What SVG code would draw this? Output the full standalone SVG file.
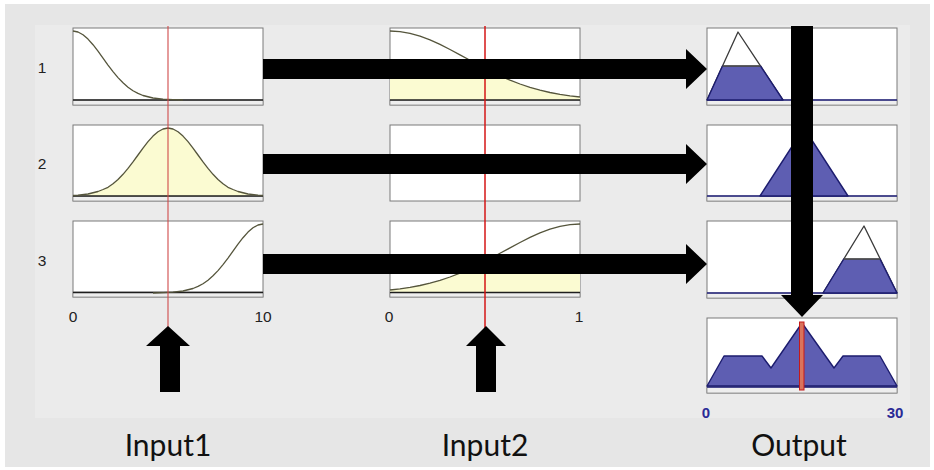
<svg xmlns="http://www.w3.org/2000/svg" width="934" height="470" viewBox="0 0 934 470">
  <style>
    .frame { fill: #ffffff; stroke: #7a7a7a; stroke-width: 1; }
    .strip { fill: #eeeeee; stroke: #8a8a8a; stroke-width: 0.8; }
    .axis { stroke: #1e1e1e; stroke-width: 1.5; }
    .oaxis { stroke: #20207a; stroke-width: 1.4; }
    .mf { fill: none; stroke: #55553c; stroke-width: 1.3; stroke-linejoin: round; }
    .mffill { fill: #fbfbd2; stroke: none; }
    .omf { fill: #5e5eb2; stroke: #1c1c6e; stroke-width: 1.4; stroke-linejoin: round; }
    .otri { fill: none; stroke: #3a3a3a; stroke-width: 1.3; stroke-linejoin: round; }
    .cut { stroke: #6a6a30; stroke-width: 1.2; }
    .row { font-family: "Liberation Sans", Arial, sans-serif; font-size: 15.5px; fill: #222222; text-anchor: middle; }
    .tick { font-family: "Liberation Sans", Arial, sans-serif; font-size: 15.5px; fill: #222222; text-anchor: middle; }
    .otick { font-family: "Liberation Sans", Arial, sans-serif; font-size: 15px; font-weight: bold; fill: #2a2a96; text-anchor: middle; }
    .title { font-family: "Lato", "Liberation Sans", sans-serif; font-size: 30px; fill: #111111; text-anchor: middle; }
    .arrow { fill: #000000; stroke: none; }
  </style>

  <!-- backdrop -->
  <rect x="0" y="0" width="934" height="470" fill="#ffffff"/>
  <rect x="5" y="4" width="925" height="463" fill="#e6e6e6"/>
  <rect x="35" y="25" width="875" height="393" fill="#ebebeb"/>

  <!-- rule numbers -->
  <g id="rule-labels">
    <text class="row" x="42" y="73">1</text>
    <text class="row" x="42" y="169">2</text>
    <text class="row" x="42" y="266">3</text>
  </g>

  <!-- Input1 column -->
  <g id="input1-mf1">
    <rect class="frame" x="73" y="28" width="190" height="77"/>
    <rect class="strip" x="73" y="100" width="190" height="5"/>
    <line class="axis" x1="73" y1="100" x2="263" y2="100"/>
    <polyline class="mf" points="73,31 78,32 83,34.7 88,39.1 93,44.7 98,51.2 103,58.1 108,65.1 113,71.6 118,77.6 123,82.8 128,87.2 133,90.7 138,93.4 143,95.5 153,98 163,99.2 173,99.7 183,100"/>
  </g>
  <g id="input1-mf2">
    <rect class="frame" x="73" y="125" width="190" height="76"/>
    <rect class="strip" x="73" y="196" width="190" height="5"/>
    <polygon class="mffill" points="73,195.5 78,195.2 88,194 98,191.5 103,189.5 108,187.3 113,183.8 118,179.5 123,174.3 128,168.4 133,161.9 138,155 143,148.1 148,141.6 153,136.1 158,131.7 163,129 168,128 173,129 178,131.7 183,136.1 188,141.6 193,148.1 198,155 203,161.9 208,168.4 213,174.3 218,179.5 223,183.8 228,187.3 233,189.5 238,191.5 248,194 258,195.2 263,195.5 263,196 73,196"/>
    <line class="axis" x1="73" y1="196" x2="263" y2="196"/>
    <polyline class="mf" points="73,195.5 78,195.2 88,194 98,191.5 103,189.5 108,187.3 113,183.8 118,179.5 123,174.3 128,168.4 133,161.9 138,155 143,148.1 148,141.6 153,136.1 158,131.7 163,129 168,128 173,129 178,131.7 183,136.1 188,141.6 193,148.1 198,155 203,161.9 208,168.4 213,174.3 218,179.5 223,183.8 228,187.3 233,189.5 238,191.5 248,194 258,195.2 263,195.5"/>
  </g>
  <g id="input1-mf3">
    <rect class="frame" x="73" y="221" width="190" height="76"/>
    <rect class="strip" x="73" y="292" width="190" height="5"/>
    <line class="axis" x1="73" y1="292.5" x2="263" y2="292.5"/>
    <polyline class="mf" points="153,293 163,292.7 173,292.2 183,291 193,288.5 198,286.4 203,283.7 208,280.2 213,275.8 218,270.6 223,264.6 228,258.1 233,251.1 238,244.2 243,237.7 248,232.1 253,227.7 258,225 263,224"/>
  </g>
  <g id="input1-axis">
    <text class="tick" x="73" y="321.5">0</text>
    <text class="tick" x="263" y="321.5">10</text>
    <line x1="168" y1="26" x2="168" y2="328" stroke="#cf4a4a" stroke-width="1.1"/>
    <text class="title" x="168" y="456">Input1</text>
  </g>

  <!-- Input2 column -->
  <g id="input2-mf1">
    <rect class="frame" x="390" y="28" width="190" height="77"/>
    <rect class="strip" x="390" y="100" width="190" height="5"/>
    <polygon class="mffill" points="390,100 390,68.4 485,68.4 490,71 500,75.8 510,80.2 520,84 530,87.4 540,90.2 550,92.5 560,94.3 570,95.8 580,97 580,100"/>
    <line class="axis" x1="390" y1="100" x2="580" y2="100"/>
    <polyline class="mf" points="390,31 400,31.6 410,33.3 420,36.2 430,39.9 440,44.4 450,49.5 460,54.9 470,60.3 480,65.8 485,68.4 490,71 500,75.8 510,80.2 520,84 530,87.4 540,90.2 550,92.5 560,94.3 570,95.8 580,97"/>
  </g>
  <g id="input2-mf2">
    <rect class="frame" x="390" y="125" width="190" height="76"/>
  </g>
  <g id="input2-mf3">
    <rect class="frame" x="390" y="221" width="190" height="76"/>
    <rect class="strip" x="390" y="292" width="190" height="5"/>
    <polygon class="mffill" points="390,293 390,290 400,288.8 410,287.3 420,285.5 430,283.2 440,280.4 450,277 460,273.2 470,268.8 480,264 485,261.4 580,261.4 580,293"/>
    <line class="axis" x1="390" y1="292.5" x2="580" y2="292.5"/>
    <polyline class="mf" points="390,290 400,288.8 410,287.3 420,285.5 430,283.2 440,280.4 450,277 460,273.2 470,268.8 480,264 485,261.4 490,258.8 500,253.3 510,247.9 520,242.5 530,237.4 540,232.9 550,229.2 560,226.3 570,224.6 580,224"/>
  </g>
  <g id="input2-axis">
    <text class="tick" x="389" y="321.5">0</text>
    <text class="tick" x="579" y="321.5">1</text>
    <line x1="485" y1="26" x2="485" y2="328" stroke="#d41616" stroke-width="1.5"/>
    <text class="title" x="485" y="456">Input2</text>
  </g>

  <!-- Output column -->
  <g id="output-mf1">
    <rect class="frame" x="707" y="28" width="190" height="77"/>
    <rect class="strip" x="707" y="100" width="190" height="5"/>
    <line class="oaxis" x1="707" y1="100" x2="897" y2="100"/>
    <polyline class="otri" points="707,100 738,32 783,100"/>
    <polygon class="omf" points="707,100 722.5,66 760.5,66 783,100"/>
    <line class="cut" x1="722.5" y1="66" x2="760.5" y2="66"/>
  </g>
  <g id="output-mf2">
    <rect class="frame" x="707" y="125" width="190" height="76"/>
    <rect class="strip" x="707" y="196" width="190" height="5"/>
    <line class="oaxis" x1="707" y1="196" x2="897" y2="196"/>
    <polygon class="omf" points="760,196 804,128 848,196"/>
  </g>
  <g id="output-mf3">
    <rect class="frame" x="707" y="221" width="190" height="77"/>
    <rect class="strip" x="707" y="293" width="190" height="5"/>
    <line class="oaxis" x1="707" y1="293" x2="897" y2="293"/>
    <polyline class="otri" points="823,293 864,226 897,293"/>
    <polygon class="omf" points="823,293 843.8,259 880,259 897,293"/>
    <line class="cut" x1="843.8" y1="259" x2="880" y2="259"/>
  </g>
  <g id="output-aggregate">
    <rect class="frame" x="707" y="318" width="190" height="75"/>
    <rect class="strip" x="707" y="387" width="190" height="6"/>
    <line class="oaxis" x1="707" y1="387" x2="897" y2="387"/>
    <polygon class="omf" points="707,386 724,356 762,356 771,368 802,323 834,368 843,356 880,356 897,386"/>
    <rect x="799.5" y="322" width="4.5" height="68" fill="#d9735c" stroke="#c41a1a" stroke-width="1"/>
    <text class="otick" x="706" y="417.5">0</text>
    <text class="otick" x="895" y="417.5">30</text>
    <text class="title" x="799" y="456">Output</text>
  </g>

  <!-- connectors -->
  <g id="connectors">
    <polygon class="arrow" points="263,59 686,59 686,49 707,69 686,89 686,79 263,79"/>
    <polygon class="arrow" points="263,154 686,154 686,144 707,164 686,184 686,174 263,174"/>
    <polygon class="arrow" points="263,254 686,254 686,244 707,264 686,284 686,274 263,274"/>
    <polygon class="arrow" points="791,26 813,26 813,295 823,295 802,317 781,295 791,295"/>
    <polygon class="arrow" points="168,326 190,346 180,346 180,392 160,392 160,346 146,346"/>
    <polygon class="arrow" points="486,326 506,346 496,346 496,392 476,392 476,346 466,346"/>
  </g>
</svg>
